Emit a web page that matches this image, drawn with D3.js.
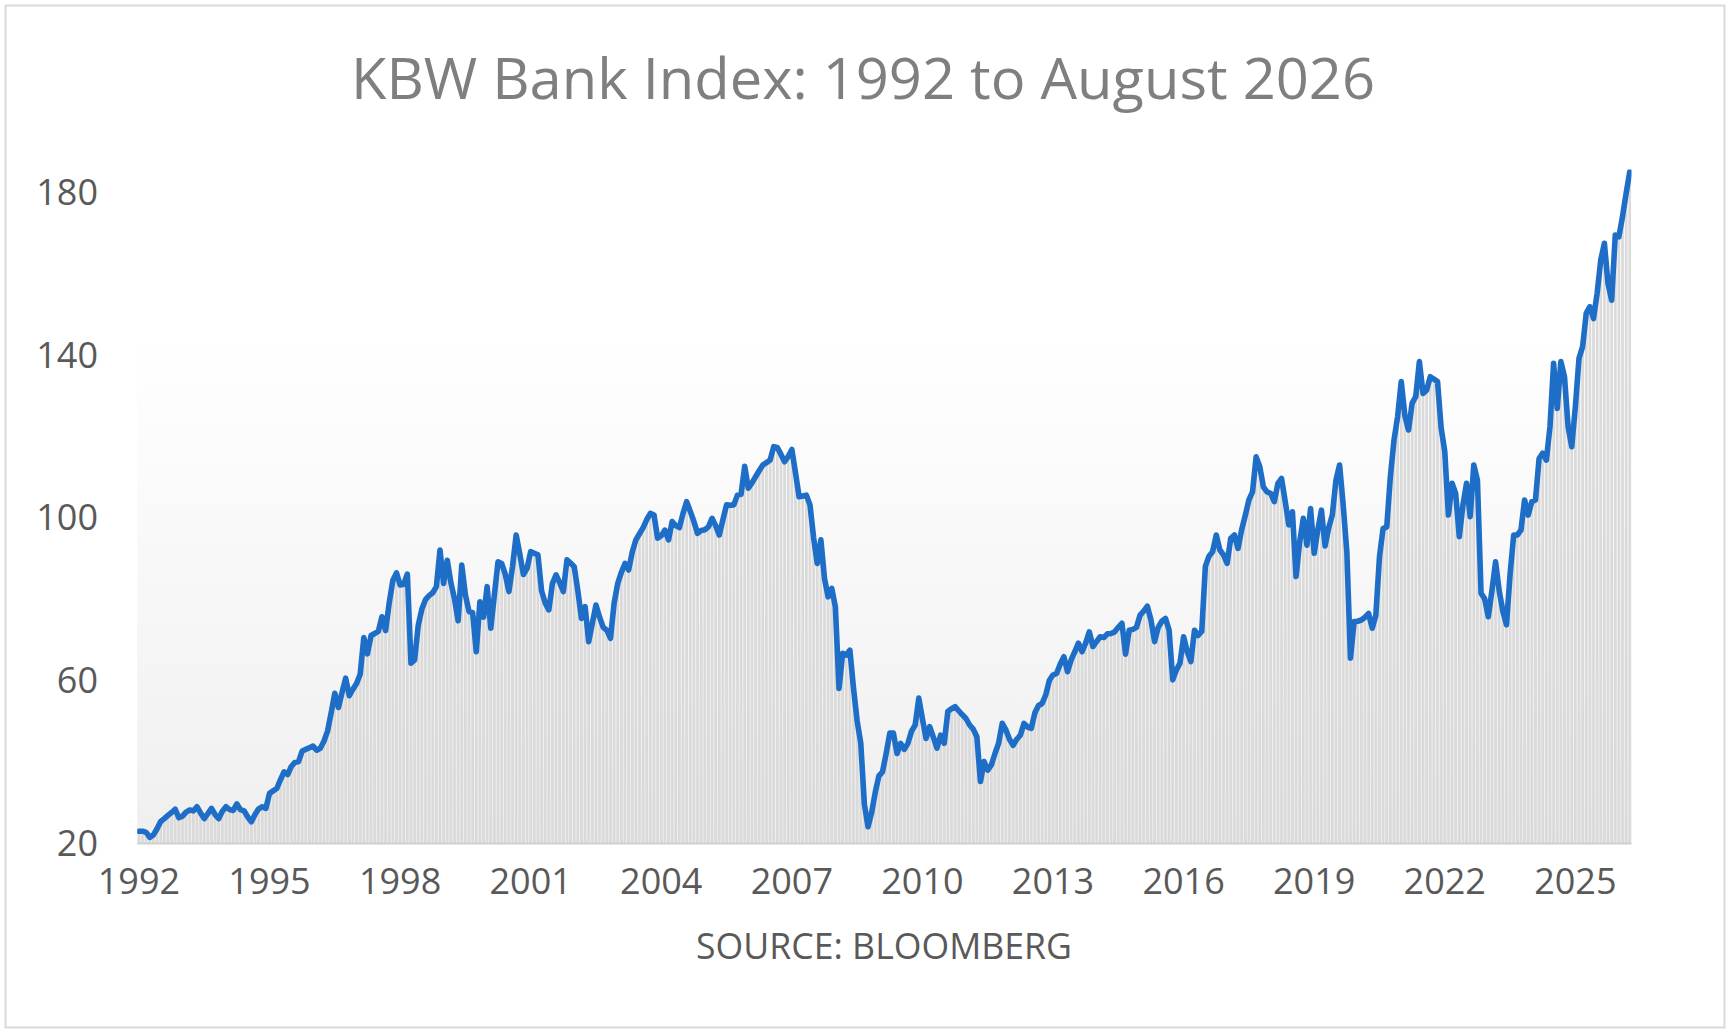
<!DOCTYPE html>
<html>
<head>
<meta charset="utf-8">
<script src="https://cdn.jsdelivr.net/npm/d3@7/dist/d3.min.js"></script>
<style>
  body { margin: 0; background: #fff; }
  text { font-family: "Open Sans", "Noto Sans", sans-serif; }
</style>
</head>
<body>
<div id="chart"></div>
<script>
// monthly index levels, Jan 1992 onward
const close1990s = [
  22.9, 22.9, 22.6, 21.4, 22.0, 23.5, 25.3, 26.0, 26.8, 27.5, 28.3, 26.2,
  26.6, 27.6, 28.1, 27.9, 28.9, 27.4, 26.0, 27.2, 28.5, 27.0, 26.0, 27.8,
  28.9, 28.2, 28.0, 29.6, 28.2, 27.9, 26.4, 25.2, 27.0, 28.4, 28.9, 28.5,
  32.2, 32.8, 33.4, 35.5, 37.5, 36.8, 38.8, 39.8, 40.0, 42.6, 43.0, 43.4,
  43.8, 42.8, 43.3, 45.0, 47.5, 52.0, 56.8, 53.3, 57.0, 60.5, 56.2, 57.8,
  59.2, 61.5, 70.5, 66.5, 71.0, 71.5, 72.0, 75.6, 72.2, 79.0, 84.5, 86.4,
  83.4, 83.6, 86.1, 64.2, 65.0, 73.5, 77.5, 79.8, 80.8, 81.5, 83.0, 92.0,
  83.8, 89.5, 84.0, 80.0, 74.6, 88.3, 81.0, 76.9, 76.6, 67.0, 79.3, 75.5
];
const close2000s = [
  83.0, 72.8, 81.0, 89.1, 88.7, 86.0, 81.8, 88.0, 95.7, 91.0, 86.0, 87.5,
  91.6, 91.2, 90.8, 82.0, 79.0, 77.3, 83.8, 85.9, 84.0, 81.8, 89.6, 88.8,
  87.9, 82.0, 75.2, 78.1, 69.5, 74.0, 78.5, 75.5, 73.0, 72.3, 70.3, 78.9,
  83.8, 86.5, 88.7, 87.1, 91.5, 94.5, 96.0, 97.5, 99.5, 101.0, 100.6, 94.9,
  95.5, 96.9, 94.5, 99.0, 98.0, 97.5, 101.0, 103.9, 101.5, 99.0, 96.1, 96.8,
  97.0, 97.7, 99.8, 98.0, 95.7, 99.5, 103.1, 103.0, 103.1, 105.5, 105.7, 112.6,
  107.2, 108.5, 110.0, 111.5, 112.9, 113.5, 114.1, 117.4, 117.2, 115.5, 113.7, 115.0,
  116.7, 111.0, 105.1, 105.3, 105.5, 103.1, 95.0, 88.7, 94.5, 85.0, 80.5, 82.6,
  78.0, 58.0, 66.6, 66.2, 67.4, 58.0, 50.0, 44.5, 29.5, 24.0, 27.5, 32.5,
  36.5, 37.5, 42.0, 47.0, 47.0, 42.0, 44.5, 43.0, 44.5, 47.5, 49.0, 55.6
];
const close2010s = [
  50.5, 45.7, 48.6, 46.0, 43.3, 46.5, 44.5, 52.3, 53.0, 53.5, 52.5, 51.5,
  50.6, 49.0, 48.0, 46.1, 35.1, 40.0, 37.9, 39.2, 42.0, 44.5, 49.4, 47.8,
  45.5, 44.0, 45.5, 46.5, 49.4, 48.5, 48.2, 52.0, 53.8, 54.3, 56.4, 60.0,
  61.3, 61.7, 64.0, 65.8, 62.1, 65.0, 67.0, 69.1, 67.0, 69.1, 71.9, 68.3,
  69.5, 70.7, 70.5, 71.4, 71.5, 71.9, 73.0, 74.0, 66.4, 72.3, 72.5, 73.0,
  76.0, 77.0, 78.2, 74.8, 69.5, 73.0, 74.5, 75.2, 72.3, 60.1, 62.5, 64.2,
  70.7, 67.0, 64.6, 72.3, 71.0, 72.0, 88.0, 90.5, 91.6, 95.7, 92.0, 90.8,
  88.7, 94.9, 95.7, 92.4, 97.0, 100.5, 104.3, 106.3, 114.9, 112.5, 107.5, 106.3,
  105.9, 103.9, 108.4, 109.6, 104.0, 98.2, 101.4, 85.5, 94.0, 99.8, 93.2, 102.2,
  91.2, 97.0, 101.8, 93.0, 97.5, 100.6, 109.2, 112.9, 103.0, 91.6, 65.4, 74.4
];
const close2020s = [
  74.5, 74.8, 75.5, 76.4, 72.8, 76.0, 90.4, 97.3, 97.7, 110.0, 119.0, 124.8,
  133.4, 125.0, 121.5, 128.1, 129.7, 138.3, 130.5, 131.3, 134.6, 134.0, 133.4, 122.0,
  116.2, 100.6, 108.4, 105.9, 95.3, 103.0, 108.4, 100.2, 112.9, 109.2, 81.4, 80.0,
  75.6, 82.0, 89.1, 82.0, 77.0, 73.6, 86.0, 95.7, 95.7, 96.9, 104.3, 100.6,
  103.9, 104.3, 114.5, 115.8, 114.1, 122.3, 137.9, 126.8, 138.3, 134.6, 122.3, 117.4,
  127.2, 139.1, 142.0, 150.2, 151.8, 148.9, 155.1, 163.3, 167.4, 157.5, 153.4, 169.4,
  169.0, 174.0, 179.7, 185.0
];

const startYear = 1992;
const yearTicks = [1992, 1995, 1998, 2001, 2004, 2007, 2010, 2013, 2016, 2019, 2022, 2025];
const valueTicks = [20, 60, 100, 140, 180];
const titleText = 'KBW Bank Index: 1992 to August 2026';
const sourceText = 'SOURCE: BLOOMBERG';

const values = [].concat(close1990s, close2000s, close2010s, close2020s);
const data = values.map((v, i) => ({ i: i, v: v }));

const W = 1732, H = 1035;
const plot = { left: 137.2, right: 1631.5, top: 169.6, bottom: 843 };

const svg = d3.select('#chart')
  .append('svg')
  .attr('width', W)
  .attr('height', H);

const defs = svg.append('defs');
const grad = defs.append('linearGradient')
  .attr('id', 'plotBg')
  .attr('x1', 0).attr('y1', 0)
  .attr('x2', 0).attr('y2', 1);
grad.append('stop').attr('offset', '0%').attr('stop-color', '#ffffff');
grad.append('stop').attr('offset', '25%').attr('stop-color', '#ffffff');
grad.append('stop').attr('offset', '100%').attr('stop-color', '#efefef');

defs.append('clipPath').attr('id', 'plotClip')
  .append('rect')
  .attr('x', plot.left)
  .attr('y', plot.top)
  .attr('width', plot.right - plot.left)
  .attr('height', plot.bottom - plot.top);

// outer frame
svg.append('rect')
  .attr('x', 5.5).attr('y', 5.5)
  .attr('width', 1719).attr('height', 1022)
  .attr('fill', '#fff')
  .attr('stroke', '#d9d9d9')
  .attr('stroke-width', 2);

const x = d3.scaleBand()
  .domain(d3.range(values.length))
  .range([plot.left, plot.right])
  .paddingInner(0.25)
  .paddingOuter(0.1);

const cx = i => x(i) + x.bandwidth() / 2;

const y = d3.scaleLinear()
  .domain([20, 185.5])
  .range([plot.bottom, plot.top]);

// plot area background
svg.append('rect')
  .attr('x', plot.left)
  .attr('y', plot.top)
  .attr('width', plot.right - plot.left)
  .attr('height', plot.bottom - plot.top)
  .attr('fill', 'url(#plotBg)');

const g = svg.append('g').attr('clip-path', 'url(#plotClip)');

// grey columns under the line
g.selectAll('rect.col')
  .data(data)
  .enter()
  .append('rect')
  .attr('class', 'col')
  .attr('x', d => x(d.i))
  .attr('y', d => y(d.v))
  .attr('width', x.bandwidth())
  .attr('height', d => y(20) - y(d.v))
  .attr('fill', '#dadada');

// axis line
svg.append('line')
  .attr('x1', plot.left).attr('x2', plot.right)
  .attr('y1', plot.bottom + 0.5).attr('y2', plot.bottom + 0.5)
  .attr('stroke', '#cfcfcf')
  .attr('stroke-width', 2);

const line = d3.line()
  .x(d => cx(d.i))
  .y(d => y(d.v));

g.append('path')
  .datum(data)
  .attr('d', line)
  .attr('fill', 'none')
  .attr('stroke', '#1e6ec8')
  .attr('stroke-width', 5.6)
  .attr('stroke-linejoin', 'round')
  .attr('stroke-linecap', 'round');

// y axis labels
svg.selectAll('text.ytick')
  .data(valueTicks)
  .enter()
  .append('text')
  .attr('class', 'ytick')
  .attr('x', 98)
  .attr('y', d => y(d) + 13)
  .attr('text-anchor', 'end')
  .attr('font-size', 36)
  .attr('fill', '#595959')
  .text(d => d);

// x axis labels
svg.selectAll('text.xtick')
  .data(yearTicks)
  .enter()
  .append('text')
  .attr('class', 'xtick')
  .attr('x', d => cx((d - startYear) * 12))
  .attr('y', 894)
  .attr('text-anchor', 'middle')
  .attr('font-size', 36)
  .attr('fill', '#595959')
  .text(d => d);

// title
svg.append('text')
  .attr('x', 863)
  .attr('y', 99)
  .attr('text-anchor', 'middle')
  .attr('font-size', 56)
  .attr('fill', '#7f7f7f')
  .attr('textLength', 1024)
  .attr('lengthAdjust', 'spacingAndGlyphs')
  .text(titleText);

// source note
svg.append('text')
  .attr('x', 884)
  .attr('y', 959)
  .attr('text-anchor', 'middle')
  .attr('font-size', 37)
  .attr('fill', '#595959')
  .attr('textLength', 376)
  .attr('lengthAdjust', 'spacingAndGlyphs')
  .text(sourceText);
</script>
</body>
</html>
